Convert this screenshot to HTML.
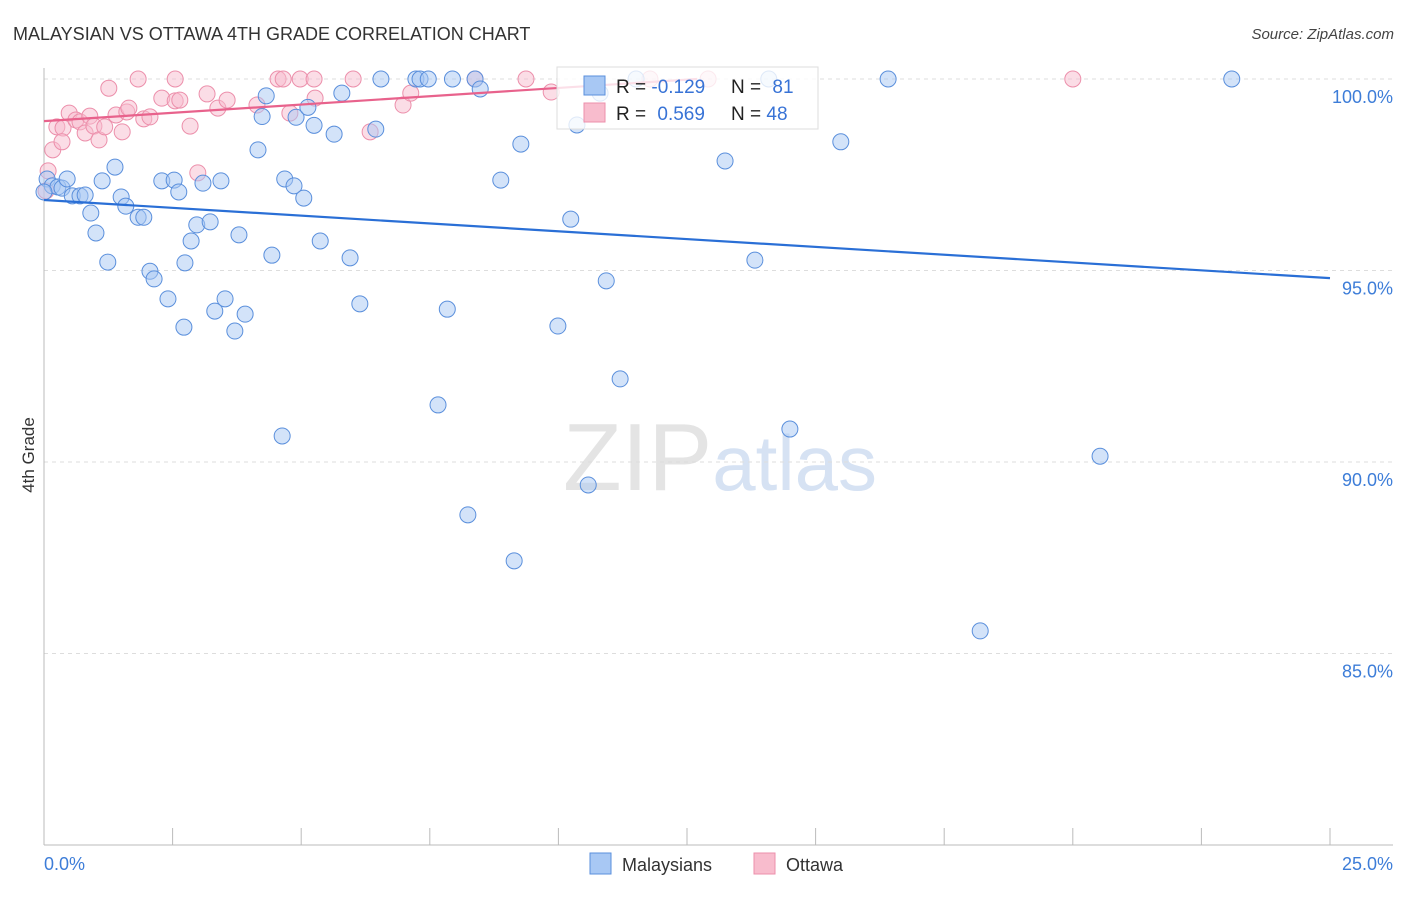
<!DOCTYPE html>
<html><head><meta charset="utf-8"><style>
html,body{margin:0;padding:0;background:#fff;}
body{width:1406px;height:892px;overflow:hidden;font-family:"Liberation Sans",sans-serif;}
text{font-family:"Liberation Sans",sans-serif;}
</style></head><body>
<svg id="chart" width="1406" height="892" xmlns="http://www.w3.org/2000/svg">
<text x="13" y="40" font-size="18" fill="#333">MALAYSIAN VS OTTAWA 4TH GRADE CORRELATION CHART</text>
<text x="1394" y="39" font-size="15" fill="#444" font-style="italic" text-anchor="end">Source: ZipAtlas.com</text>
<text x="720" y="490" font-size="96" text-anchor="middle" fill="#e4e4e4" font-family="Liberation Serif"><tspan>ZIP</tspan><tspan fill="#d6e2f3" font-family="Liberation Sans" font-size="78">atlas</tspan></text>
<g id="grid"></g>
<g id="axes"></g>
<g id="pinkPts"></g>
<g id="bluePts"></g>
<g id="trends"></g>
<g>
<rect x="557" y="67" width="261" height="62" fill="#fff" fill-opacity="0.8" stroke="#ddd"/>
<rect x="584" y="76" width="21" height="19" fill="#a8c8f4" stroke="#5a8fdc"/>
<rect x="584" y="103" width="21" height="19" fill="#f8bccd" stroke="#ec8fab"/>
<text x="616" y="93" font-size="19" fill="#222">R = <tspan fill="#3873d6">-0.129</tspan></text>
<text x="731" y="93" font-size="19" fill="#222">N = <tspan fill="#3873d6" dx="6">81</tspan></text>
<text x="616" y="120" font-size="19" fill="#222">R = <tspan fill="#3873d6" dx="6">0.569</tspan></text>
<text x="731" y="120" font-size="19" fill="#222">N = <tspan fill="#3873d6">48</tspan></text>
</g>
<text transform="translate(34,455) rotate(-90)" font-size="17" fill="#333" text-anchor="middle">4th Grade</text>
<g>
<rect x="590" y="853" width="21" height="21" fill="#a8c8f4" stroke="#5a8fdc"/>
<text x="622" y="871" font-size="18" fill="#333">Malaysians</text>
<rect x="754" y="853" width="21" height="21" fill="#f8bccd" stroke="#ec8fab"/>
<text x="786" y="871" font-size="18" fill="#333">Ottawa</text>
</g>
</svg>
<script>
const blueX=[0.06,0.16,0.27,0.35,0.45,0.55,0.70,0.80,0.91,1.01,1.13,1.24,1.38,1.50,1.59,2.72,1.83,1.94,2.06,2.14,2.29,2.41,2.53,2.62,2.74,2.86,2.97,3.09,3.23,3.32,3.44,3.52,3.71,3.79,3.91,4.16,4.24,4.32,4.43,4.63,4.68,4.86,4.90,5.05,5.13,5.25,5.37,5.64,5.79,5.95,6.14,6.45,6.55,7.23,7.31,7.47,7.66,7.84,7.94,8.24,8.38,8.48,8.88,9.14,9.27,9.99,10.24,10.36,10.58,10.81,10.93,11.20,11.51,13.24,13.82,14.09,14.50,15.49,16.41,18.20,20.53,23.09,0.0];
const blueY=[97.39,97.21,97.18,97.15,97.39,96.95,96.95,96.97,96.50,95.98,97.34,95.22,97.70,96.92,96.68,93.52,96.39,96.39,94.98,94.78,97.34,94.26,97.36,97.05,95.20,95.77,96.19,97.28,96.27,93.94,97.34,94.26,93.42,95.93,93.86,98.15,99.02,99.56,95.40,90.68,97.39,97.21,99.00,96.89,99.26,98.79,95.77,98.56,99.63,95.33,94.13,98.69,100.0,100.0,100.0,100.0,91.49,93.99,100.0,88.62,100.0,99.74,97.36,87.42,98.30,93.55,96.34,98.80,89.40,99.63,94.73,92.17,100.0,97.86,95.27,100.0,90.86,98.36,100.0,85.59,90.15,100.0,97.05];
const pinkX=[0.17,0.25,0.37,0.49,0.62,0.70,0.80,0.89,0.97,1.07,1.18,1.26,1.40,1.52,1.61,1.65,1.83,1.94,2.06,2.29,2.55,2.55,2.64,2.84,2.99,3.17,3.38,3.56,4.14,4.55,4.65,4.78,4.98,5.25,5.27,6.01,6.34,6.98,7.13,8.38,9.37,9.86,11.78,12.91,20.00,0.04,0.35,0.08];
const pinkY=[98.15,98.75,98.72,99.11,98.93,98.88,98.59,99.03,98.77,98.41,98.75,99.76,99.06,98.62,99.14,99.24,100.0,98.96,99.01,99.50,100.0,99.43,99.45,98.77,97.55,99.61,99.24,99.45,99.32,100.0,100.0,99.11,100.0,100.0,99.50,100.0,98.62,99.32,99.63,100.0,100.0,99.66,100.0,100.0,100.0,97.08,98.36,97.60];
const trendBlue=[96.84,94.80];
const trendPink=[98.90,100.0];
const trendPinkEnd=12.7;
const yTicks=[100,95,90,85];
const yTickLabels=["100.0%","95.0%","90.0%","85.0%"];
const xTickLabels=["0.0%","25.0%"];
const NS="http://www.w3.org/2000/svg";
const X0=44,X1=1330,Y100=79,PPU=38.3;
function sx(v){return X0+(v/25)*(X1-X0);}
function sy(v){return Y100+(100-v)*PPU;}
function mk(tag,attrs,parent){const e=document.createElementNS(NS,tag);for(const k in attrs)e.setAttribute(k,attrs[k]);parent.appendChild(e);return e;}
const grid=document.getElementById('grid'),axes=document.getElementById('axes');
yTicks.forEach((t,i)=>{
  const l=mk('line',{x1:X0,x2:1393,y1:sy(t),y2:sy(t),stroke:'#ddd','stroke-dasharray':'4,4'},grid);
  
  
  const tx=mk('text',{x:1393,y:sy(t)+24,'text-anchor':'end','font-size':18,fill:'#3d7dd8'},axes);
  tx.textContent=yTickLabels[i];
  
  
});
mk('line',{x1:X0,x2:X0,y1:68,y2:845,stroke:'#bbb'},axes);
mk('line',{x1:X0,x2:1393,y1:845,y2:845,stroke:'#bbb'},axes);
for(let i=0;i<=10;i++){const x=sx(i*2.5);const t=mk('line',{x1:x,x2:x,y1:828,y2:845,stroke:'#bbb'},axes);}
const xl0=mk('text',{x:44,y:870,'font-size':18,fill:'#3d7dd8'},axes);xl0.textContent=xTickLabels[0];


const xl1=mk('text',{x:1393,y:870,'font-size':18,fill:'#3d7dd8','text-anchor':'end'},axes);xl1.textContent=xTickLabels[1];


const bp=document.getElementById('bluePts'),pp=document.getElementById('pinkPts');
pinkX.forEach((v,i)=>{const c=mk('circle',{cx:sx(v),cy:sy(pinkY[i]),r:8,fill:'#f8bccd','fill-opacity':0.5,stroke:'#ec8fab','stroke-width':1},pp);

});
blueX.forEach((v,i)=>{const c=mk('circle',{cx:sx(v),cy:sy(blueY[i]),r:8,fill:'#a8c8f4','fill-opacity':0.5,stroke:'#5a8fdc','stroke-width':1},bp);

});
const tr=document.getElementById('trends');
const lb=mk('line',{x1:sx(0),y1:sy(trendBlue[0]),x2:sx(25),y2:sy(trendBlue[1]),stroke:'#2a6fd6','stroke-width':2.2},tr);


const lp=mk('line',{x1:sx(0),y1:sy(trendPink[0]),x2:sx(trendPinkEnd),y2:sy(trendPink[1]),stroke:'#e8628c','stroke-width':2.2},tr);


</script>
</body></html>
